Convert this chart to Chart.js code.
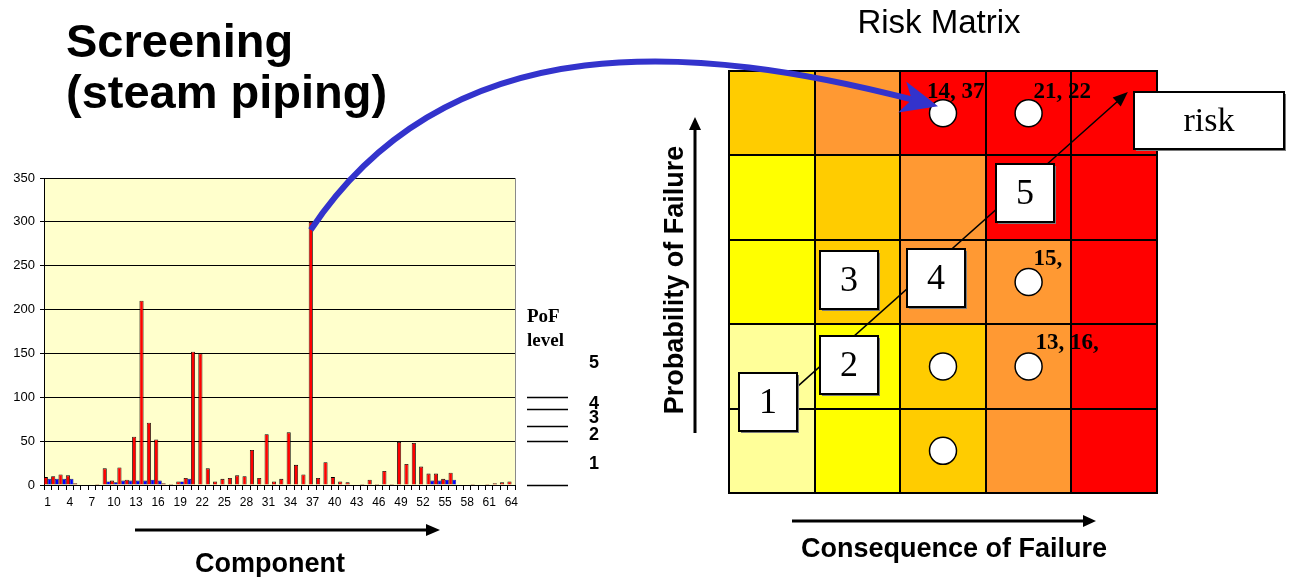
<!DOCTYPE html>
<html>
<head>
<meta charset="utf-8">
<script src="https://cdn.jsdelivr.net/npm/chart.js@4.4.1/dist/chart.umd.min.js"></script>
<style>
  html, body { margin: 0; padding: 0; background: #ffffff; width: 1302px; height: 577px; overflow: hidden; }
  canvas { position: absolute; left: 0; top: 0; }
</style>
</head>
<body>
<canvas id="matrix" width="1302" height="577"></canvas>
<canvas id="screening" width="1302" height="577"></canvas>
<script>
const SANS = '"Liberation Sans", Arial, Helvetica, sans-serif';
const SERIF = '"Liberation Serif", "Times New Roman", serif';

// ---- Screening: components 1..64 ----
const components = ['1','2','3','4','5','6','7','8','9','10','11','12','13','14','15','16',
  '17','18','19','20','21','22','23','24','25','26','27','28','29','30','31','32',
  '33','34','35','36','37','38','39','40','41','42','43','44','45','46','47','48',
  '49','50','51','52','53','54','55','56','57','58','59','60','61','62','63','64'];

const screeningScore = [9, 10, 12, 11, 2, 0, 0, 1, 19, 5, 20, 6, 55, 210, 71, 52,
  2, 1, 4, 8, 152, 150, 19, 4, 7, 8, 11, 10, 40, 8, 58, 4,
  7, 60, 23, 12, 300, 8, 26, 9, 4, 3, 0, 1, 6, 1, 16, 1,
  49, 24, 48, 21, 13, 13, 7, 14, 0, 0, 1, 0, 1, 2, 3, 4];

const baselineScore = [7, 7, 7, 7, 0, 0, 0, 0, 4, 3, 5, 5, 5, 5, 6, 5,
  0, 0, 4, 7, 0, 0, 0, 0, 0, 0, 0, 0, 0, 0, 0, 0,
  0, 0, 0, 0, 0, 0, 0, 0, 0, 0, 0, 0, 0, 0, 0, 0,
  0, 0, 0, 0, 5, 5, 6, 6, 0, 0, 0, 0, 0, 0, 0, 0];

// PoF level bands on the screening score axis
const pofLevels = ['1', '2', '3', '4', '5'];
const pofBounds = [0, 50, 67, 87, 100];

// ---- Risk matrix ----
const cofLevels = ['1', '2', '3', '4', '5'];
const cellUnit = [1, 1, 1, 1, 1];
// cell colours, rows from PoF 1 (bottom) to PoF 5 (top)
const riskColours = [
  ['#FFFF99', '#FFFF00', '#FFCC00', '#FF9933', '#FF0000'],
  ['#FFFF99', '#FFFF00', '#FFCC00', '#FF9933', '#FF0000'],
  ['#FFFF00', '#FFCC00', '#FF9933', '#FF9933', '#FF0000'],
  ['#FFFF00', '#FFCC00', '#FF9933', '#FF0000', '#FF0000'],
  ['#FFCC00', '#FF9933', '#FF0000', '#FF0000', '#FF0000']
];

// screened components placed in the matrix
const placedCof = [3, 4, 4, 4, 3, 3];
const placedPof = [5, 5, 3, 2, 2, 1];
const placedLabels = ['14, 37', '21, 22', '15,', '13, 16,', '', ''];
const labelShift = [[-16, -15], [5, -15], [5, -17], [7, -17], [0, 0], [0, 0]];

// risk steps along the diagonal (in matrix units)
const riskSteps = ['1', '2', '3', '4', '5'];
const stepAnchor = [[0.96, 1.58], [1.90, 2.02], [1.90, 3.02], [2.92, 3.05], [3.96, 4.05]];
const riskBox = { label: 'risk', x: 6.11, y: 4.91, w: 150, h: 57 };

Chart.defaults.font.family = SANS;
Chart.defaults.color = '#000';

function arrow(ctx, x1, y1, x2, y2, width, headLen, headHalf, colour) {
  const a = Math.atan2(y2 - y1, x2 - x1);
  const c = Math.cos(a), s = Math.sin(a);
  const bx = x2 - c * headLen, by = y2 - s * headLen;
  ctx.save();
  ctx.strokeStyle = colour; ctx.fillStyle = colour; ctx.lineWidth = width;
  ctx.beginPath(); ctx.moveTo(x1, y1); ctx.lineTo(bx + c * 2, by + s * 2); ctx.stroke();
  ctx.beginPath();
  ctx.moveTo(x2, y2);
  ctx.lineTo(bx - s * headHalf, by + c * headHalf);
  ctx.lineTo(bx + s * headHalf, by - c * headHalf);
  ctx.closePath(); ctx.fill();
  ctx.restore();
}

function box(ctx, cx, cy, w, h, text, size) {
  const x = Math.round(cx - w / 2), y = Math.round(cy - h / 2);
  ctx.save();
  ctx.fillStyle = '#7a7a7a';
  ctx.fillRect(x + 2, y + 2, w, h);
  ctx.fillStyle = '#ffffff';
  ctx.fillRect(x, y, w, h);
  ctx.strokeStyle = '#000'; ctx.lineWidth = 2;
  ctx.strokeRect(x, y, w, h);
  ctx.fillStyle = '#000';
  ctx.font = size + 'px ' + SERIF;
  ctx.textAlign = 'center'; ctx.textBaseline = 'middle';
  ctx.fillText(text, x + w / 2, y + h / 2 + 2);
  ctx.restore();
}

// ---------------- risk matrix chart ----------------
const matrixDecor = {
  id: 'matrixDecor',
  afterDatasetsDraw(chart) {
    const ctx = chart.ctx, a = chart.chartArea;
    const xs = chart.scales.xc, ys = chart.scales.yc;
    ctx.save();

    // cell grid
    ctx.strokeStyle = '#000'; ctx.lineWidth = 2;
    ctx.beginPath();
    for (let k = 0; k <= cofLevels.length; k++) {
      const px = Math.round(xs.getPixelForValue(k + 0.5));
      ctx.moveTo(px, a.top); ctx.lineTo(px, a.bottom);
    }
    for (let k = 0; k <= pofLevels.length; k++) {
      const py = Math.round(ys.getPixelForValue(k + 0.5));
      ctx.moveTo(a.left - 1, py); ctx.lineTo(a.right + 1, py);
    }
    ctx.stroke();

    // diagonal path of risk steps
    const sx = xs.getPixelForValue(1.21), sy = ys.getPixelForValue(1.68);
    const ex = xs.getPixelForValue(5.16), ey = ys.getPixelForValue(5.25);
    arrow(ctx, sx, sy, ex, ey, 1.5, 15, 6, '#000');

    riskSteps.forEach((t, i) => {
      box(ctx, xs.getPixelForValue(stepAnchor[i][0]), ys.getPixelForValue(stepAnchor[i][1]), 58, 58, t, 36);
    });
    box(ctx, xs.getPixelForValue(riskBox.x), ys.getPixelForValue(riskBox.y), riskBox.w, riskBox.h, riskBox.label, 34);

    // component numbers next to the circles
    ctx.fillStyle = '#000';
    ctx.font = 'bold 23px ' + SERIF;
    ctx.textAlign = 'left'; ctx.textBaseline = 'alphabetic';
    placedLabels.forEach((t, i) => {
      if (!t) return;
      const px = xs.getPixelForValue(placedCof[i]), py = ys.getPixelForValue(placedPof[i]);
      ctx.fillText(t, px + labelShift[i][0], py + labelShift[i][1]);
    });
    ctx.restore();
  },
  afterDraw(chart) {
    const ctx = chart.ctx, a = chart.chartArea;
    ctx.save();
    ctx.fillStyle = '#000';
    ctx.font = '33px ' + SANS;
    ctx.textAlign = 'center'; ctx.textBaseline = 'alphabetic';
    ctx.fillText('Risk Matrix', (a.left + a.right) / 2 - 4, 33);

    // consequence axis
    arrow(ctx, 792, 521, 1096, 521, 3, 13, 6, '#000');
    ctx.font = 'bold 27px ' + SANS;
    ctx.fillText('Consequence of Failure', 954, 557);

    // probability axis
    arrow(ctx, 695, 433, 695, 117, 3, 13, 6, '#000');
    ctx.translate(676, 280);
    ctx.rotate(-Math.PI / 2);
    ctx.textBaseline = 'middle';
    ctx.fillText('Probability of Failure', 0, 0);
    ctx.restore();
  }
};

const matrixSets = pofLevels.map((lvl, r) => ({
  type: 'bar',
  label: 'PoF ' + lvl,
  data: cellUnit,
  backgroundColor: riskColours[r],
  borderWidth: 0,
  inflateAmount: 0.5,
  grouped: false,
  barPercentage: 1,
  categoryPercentage: 1,
  order: 2
}));

matrixSets.push({
  type: 'scatter',
  label: 'Components',
  data: placedCof.map((c, i) => ({ x: c, y: placedPof[i] })),
  xAxisID: 'xc',
  yAxisID: 'yc',
  pointRadius: 13.5,
  pointBackgroundColor: '#ffffff',
  pointBorderColor: '#000',
  pointBorderWidth: 1.5,
  showLine: false,
  order: 1
});

const matrixChart = new Chart(document.getElementById('matrix'), {
  type: 'bar',
  data: { labels: cofLevels, datasets: matrixSets },
  options: {
    responsive: false,
    animation: false,
    events: [],
    layout: { padding: { left: 729, right: 145, top: 71, bottom: 84 } },
    plugins: { legend: { display: false }, tooltip: { enabled: false } },
    scales: {
      x: { type: 'category', stacked: true, display: false },
      y: { type: 'linear', stacked: true, min: 0, max: 5, display: false },
      xc: { type: 'linear', axis: 'x', min: 0.5, max: 5.5, offset: false, display: false },
      yc: { type: 'linear', axis: 'y', min: 0.5, max: 5.5, offset: false, display: false }
    }
  },
  plugins: [matrixDecor]
});

// ---------------- screening bar chart ----------------
const plotBackground = {
  id: 'plotBackground',
  beforeDraw(chart) {
    const ctx = chart.ctx, a = chart.chartArea;
    ctx.save();
    ctx.fillStyle = '#FFFFCC';
    ctx.fillRect(a.left, a.top, a.right - a.left, a.bottom - a.top);
    ctx.restore();
  },
  afterDatasetsDraw(chart) {
    const ctx = chart.ctx, a = chart.chartArea;
    ctx.save();
    ctx.strokeStyle = '#8a8a8a'; ctx.lineWidth = 1;
    ctx.beginPath(); ctx.moveTo(Math.round(a.right) + 0.5, a.top); ctx.lineTo(Math.round(a.right) + 0.5, a.bottom); ctx.stroke();
    ctx.restore();
  }
};

const screeningDecor = {
  id: 'screeningDecor',
  afterDraw(chart) {
    const ctx = chart.ctx, a = chart.chartArea, y = chart.scales.y;
    ctx.save();
    ctx.fillStyle = '#000';
    ctx.textAlign = 'left'; ctx.textBaseline = 'alphabetic';
    ctx.font = 'bold 47px ' + SANS;
    ctx.fillText('Screening', 66, 57);
    ctx.fillText('(steam piping)', 66, 108);

    ctx.textAlign = 'center';
    ctx.font = 'bold 27px ' + SANS;
    ctx.fillText('Component', 270, 572);
    arrow(ctx, 135, 530, 440, 530, 3, 14, 6, '#000');

    // PoF level bands
    ctx.textAlign = 'left';
    ctx.font = 'bold 19px ' + SERIF;
    ctx.fillText('PoF', a.right + 12, 322);
    ctx.fillText('level', a.right + 12, 346);
    ctx.strokeStyle = '#000'; ctx.lineWidth = 1.5;
    pofBounds.forEach(v => {
      const py = Math.round(y.getPixelForValue(v)) + 0.5;
      ctx.beginPath(); ctx.moveTo(a.right + 12, py); ctx.lineTo(a.right + 53, py); ctx.stroke();
    });
    ctx.font = 'bold 18px ' + SANS;
    ctx.textAlign = 'center'; ctx.textBaseline = 'middle';
    pofLevels.forEach((t, i) => {
      const lo = pofBounds[i], hi = i + 1 < pofBounds.length ? pofBounds[i + 1] : pofBounds[i] + 80;
      ctx.fillText(t, a.right + 79, y.getPixelForValue((lo + hi) / 2) + 1);
    });

    // link from the highest-scoring component to its matrix cell
    const bar = chart.getDatasetMeta(0).data[36];
    const mx = matrixChart.scales.xc, my = matrixChart.scales.yc;
    const tipX = mx.getPixelForValue(placedCof[0]) - 5, tipY = my.getPixelForValue(placedPof[0]) - 7;
    const p0x = bar.x, p0y = bar.y + 8;
    const c1x = p0x + 140, c1y = 20;
    const c2x = tipX - 237, c2y = 45;
    const ang = Math.atan2(tipY - c2y, tipX - c2x);
    const ca = Math.cos(ang), sa = Math.sin(ang);
    const endX = tipX - ca * 26, endY = tipY - sa * 26;
    ctx.strokeStyle = '#3333CC'; ctx.fillStyle = '#3333CC';
    ctx.lineWidth = 6; ctx.lineCap = 'butt';
    ctx.beginPath();
    ctx.moveTo(p0x, p0y);
    ctx.bezierCurveTo(c1x, c1y, c2x, c2y, endX, endY);
    ctx.stroke();
    const backX = tipX - ca * 37, backY = tipY - sa * 37;
    const notchX = tipX - ca * 27, notchY = tipY - sa * 27;
    ctx.beginPath();
    ctx.moveTo(tipX, tipY);
    ctx.lineTo(backX + sa * 16, backY - ca * 16);
    ctx.lineTo(notchX, notchY);
    ctx.lineTo(backX - sa * 16, backY + ca * 16);
    ctx.closePath();
    ctx.fill();
    ctx.restore();
  }
};

new Chart(document.getElementById('screening'), {
  type: 'bar',
  data: {
    labels: components,
    datasets: [
      { label: 'PoF score', data: screeningScore, backgroundColor: '#FF0000', borderColor: '#000', borderWidth: 0.8,
        barPercentage: 1.12, categoryPercentage: 1, inflateAmount: 0 },
      { label: 'Baseline', data: baselineScore, backgroundColor: '#0000FF', borderColor: '#000033', borderWidth: 0.6,
        barPercentage: 1, categoryPercentage: 1, inflateAmount: 0 }
    ]
  },
  options: {
    responsive: false,
    animation: false,
    events: [],
    layout: { padding: { left: 0, top: 178, right: 787, bottom: 67 } },
    plugins: { legend: { display: false }, tooltip: { enabled: false } },
    scales: {
      x: {
        ticks: {
          autoSkip: false, maxRotation: 0, minRotation: 0, padding: 5,
          font: { size: 12 }, color: '#000',
          callback(v, i) { return i % 3 === 0 ? this.getLabelForValue(v) : ''; }
        },
        grid: { drawOnChartArea: false, color: '#000', tickLength: 5 },
        border: { color: '#000', width: 1 },
        afterFit(s) { s.height = 25; }
      },
      y: {
        min: 0, max: 350,
        ticks: { stepSize: 50, padding: 5, font: { size: 13 }, color: '#000' },
        grid: { color: '#000', lineWidth: 1, tickLength: 4 },
        border: { color: '#000', width: 1 },
        afterFit(s) { s.width = 44; }
      }
    }
  },
  plugins: [plotBackground, screeningDecor]
});
</script>
</body>
</html>
